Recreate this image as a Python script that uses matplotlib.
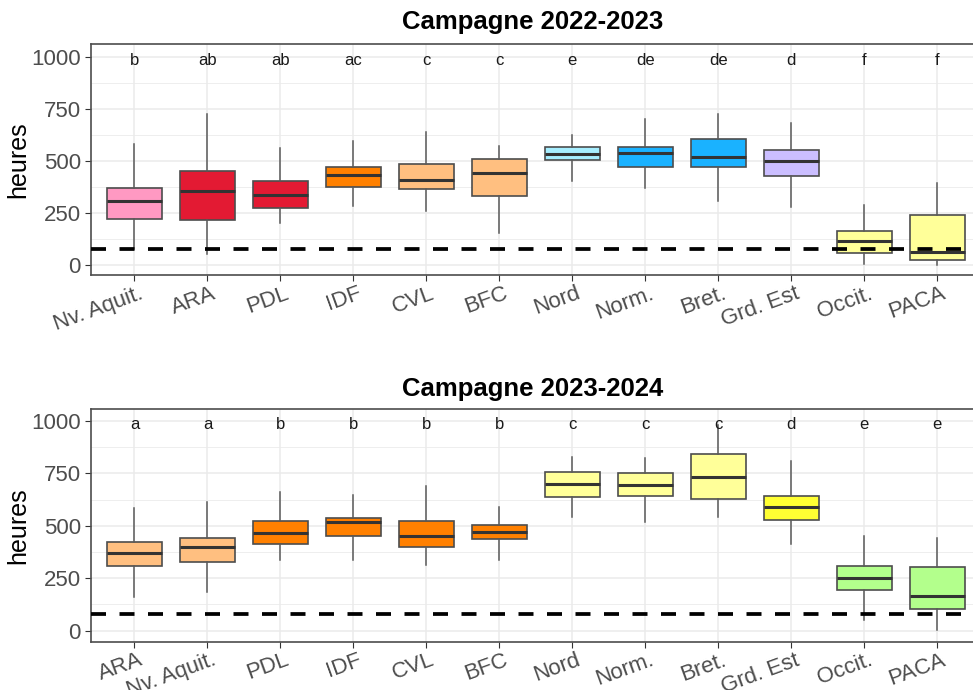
import matplotlib.pyplot as plt
import matplotlib.transforms as mtransforms
from matplotlib.ticker import MultipleLocator

plt.rcParams['font.family'] = ['Liberation Sans', 'DejaVu Sans']

# Campagne 2022-2023
top_labels = ["Nv. Aquit.", "ARA", "PDL", "IDF", "CVL", "BFC", "Nord", "Norm.", "Bret.", "Grd. Est", "Occit.", "PACA"]
top_whislo = [78, 53, 202, 284, 260, 154, 405, 373, 308, 282, 8, 1]
top_q1 = [224, 218, 274, 375, 368, 333, 505, 471, 471, 428, 58, 27]
top_med = [309, 357, 337, 433, 410, 442, 534, 541, 522, 502, 115, 64]
top_q3 = [370, 455, 407, 471, 487, 510, 567, 567, 606, 553, 165, 242]
top_whishi = [582, 727, 565, 599, 641, 573, 628, 705, 726, 684, 291, 397]
top_letters = ["b", "ab", "ab", "ac", "c", "c", "e", "de", "de", "d", "f", "f"]
top_colors = ["#FF99C2", "#E31A33", "#E31A33", "#FF8000", "#FFBF80", "#FFBF80",
              "#A6EEFF", "#1AB2FF", "#1AB2FF", "#CBBEFF", "#FFFF99", "#FFFF99"]

# Campagne 2023-2024
bot_labels = ["ARA", "Nv. Aquit.", "PDL", "IDF", "CVL", "BFC", "Nord", "Norm.", "Bret.", "Grd. Est", "Occit.", "PACA"]
bot_whislo = [162, 183, 337, 337, 312, 337, 541, 520, 541, 413, 51, 3]
bot_q1 = [310, 329, 413, 452, 399, 436, 638, 642, 628, 528, 196, 105]
bot_med = [369, 398, 467, 518, 450, 472, 700, 695, 732, 591, 253, 167]
bot_q3 = [422, 442, 522, 537, 522, 505, 757, 751, 843, 642, 309, 302]
bot_whishi = [584, 614, 661, 646, 689, 591, 830, 825, 981, 811, 453, 444]
bot_letters = ["a", "a", "b", "b", "b", "b", "c", "c", "c", "d", "e", "e"]
bot_colors = ["#FFBF80", "#FFBF80", "#FF8000", "#FF8000", "#FF8000", "#FF8000",
              "#FFFF99", "#FFFF99", "#FFFF99", "#FFFF33", "#B3FF8C", "#B3FF8C"]

threshold = 80
letter_y = 985


def draw_panel(ax, labels, whislo, q1, med, q3, whishi, letters, colors, ylim):
    stats = []
    for i in range(len(labels)):
        stats.append({'label': labels[i], 'whislo': whislo[i], 'q1': q1[i], 'med': med[i],
                      'q3': q3[i], 'whishi': whishi[i], 'fliers': []})
    pos = list(range(1, len(labels) + 1))
    bp = ax.bxp(stats, positions=pos, widths=0.75, patch_artist=True, showcaps=False,
                boxprops=dict(edgecolor='#4d4d4d', linewidth=1.2),
                medianprops=dict(color='#333333', linewidth=2.2),
                whiskerprops=dict(color='#5a5a5a', linewidth=1.1), zorder=3)
    for patch, c in zip(bp['boxes'], colors):
        patch.set_facecolor(c)

    ax.axhline(threshold, color='black', linewidth=2.7, dashes=(4, 3.6), zorder=5)

    for x, t in zip(pos, letters):
        ax.text(x, letter_y, t, ha='center', va='center', fontsize=12, color='#1a1a1a', zorder=6)

    ax.set_xlim(0.4, 12.6)
    ax.set_ylim(*ylim)
    ax.yaxis.set_major_locator(MultipleLocator(250))
    ax.yaxis.set_minor_locator(MultipleLocator(125))
    ax.grid(which='major', color='#EBEBEB', linewidth=1.1, zorder=0)
    ax.grid(which='minor', axis='y', color='#EBEBEB', linewidth=0.6, zorder=0)
    ax.set_axisbelow(True)
    ax.tick_params(axis='y', which='minor', length=0)
    ax.tick_params(axis='y', which='major', length=4, color='#333333', labelcolor='#4d4d4d',
                   labelsize=16, pad=3)
    ax.tick_params(axis='x', which='major', length=4, color='#333333', labelcolor='#4d4d4d',
                   labelsize=16, pad=1.5)
    ax.set_xticks(pos)
    ax.set_xticklabels(labels, rotation=20, ha='right', va='top', rotation_mode='anchor')
    shift = mtransforms.ScaledTranslation(4 / 100, 0, ax.figure.dpi_scale_trans)
    for lab in ax.get_xticklabels():
        lab.set_fontsize(16)
        lab.set_transform(lab.get_transform() + shift)
    for s in ax.spines.values():
        s.set_color('#4d4d4d')
        s.set_linewidth(1.2)


fig = plt.figure(figsize=(9.73, 6.9), dpi=100)
ax1 = fig.add_axes([0.0932, 0.601, 0.915, 0.3357])
ax2 = fig.add_axes([0.0932, 0.0696, 0.915, 0.3372])

draw_panel(ax1, top_labels, top_whislo, top_q1, top_med, top_q3, top_whishi,
           top_letters, top_colors, (-48, 1065))
draw_panel(ax2, bot_labels, bot_whislo, bot_q1, bot_med, bot_q3, bot_whishi,
           bot_letters, bot_colors, (-54, 1056))

fig.text(533 / 973, 1 - 22 / 690, "Campagne 2022-2023", ha='center', va='center',
         fontsize=18.5, fontweight='bold')
fig.text(533 / 973, 1 - 389 / 690, "Campagne 2023-2024", ha='center', va='center',
         fontsize=18.5, fontweight='bold')
fig.text(18 / 973, 1 - 160 / 690, "heures", rotation=90, ha='center', va='center', fontsize=18)
fig.text(18 / 973, 1 - 526 / 690, "heures", rotation=90, ha='center', va='center', fontsize=18)

fig.savefig("out.png", dpi=100)
